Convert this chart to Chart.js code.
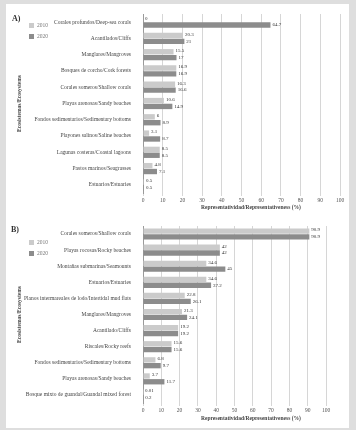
<!DOCTYPE html>
<html>
<head>
<meta charset="utf-8">
<script src="https://cdn.jsdelivr.net/npm/chart.js@4.4.0/dist/chart.umd.min.js"></script>
<style>
    html, body { margin: 0; padding: 0; }
    body { width: 356px; height: 430px; background: #dedede; position: relative; overflow: hidden; font-family: "Liberation Serif", "DejaVu Serif", serif; }
    .panel { position: absolute; left: 6px; top: 4px; width: 343px; height: 424px; background: #fff; }
    .box { position: absolute; }
    .box canvas { display: block; }
    .tag { position: absolute; font-weight: bold; font-size: 8px; color: #333; }
    .leg { position: absolute; font-size: 5.5px; color: #777; line-height: 6px; }
    .leg i { display: inline-block; width: 5px; height: 5px; margin-right: 3px; vertical-align: -1px; }
    .xtitle { position: absolute; font-size: 5.5px; font-weight: bold; color: #444; white-space: nowrap; }
</style>
</head>
<body>
<div class="panel"></div>

<div class="box" style="left:6px; top:4px; width:343px; height:210px;"><canvas id="chartA"></canvas></div>
<div class="box" style="left:6px; top:214px; width:343px; height:214px;"><canvas id="chartB"></canvas></div>

<div class="tag" style="left:12px; top:14px;">A)</div>
<div class="leg" style="left:29px; top:22px;"><i style="background:#cbcbcb"></i>2010</div>
<div class="leg" style="left:29px; top:33px;"><i style="background:#8c8c8c"></i>2020</div>
<div class="xtitle" style="left:201px; top:204px;">Representatividad/Representativeness (%)</div>

<div class="tag" style="left:11px; top:225px;">B)</div>
<div class="leg" style="left:29px; top:239px;"><i style="background:#cbcbcb"></i>2010</div>
<div class="leg" style="left:29px; top:250px;"><i style="background:#8c8c8c"></i>2020</div>
<div class="xtitle" style="left:201px; top:415px;">Representatividad/Representativeness (%)</div>

<script>
const seriesNames = ['2010', '2020'];
const tickValues = [0, 10, 20, 30, 40, 50, 60, 70, 80, 90, 100];

const categoriesA = [
    'Corales profundos/Deep-sea corals',
    'Acantilados/Cliffs',
    'Manglares/Mangroves',
    'Bosques de corcho/Cork forests',
    'Corales someros/Shallow corals',
    'Playas arenosas/Sandy beaches',
    'Fondos sedimentarios/Sedimentary bottoms',
    'Playones salinos/Saline beaches',
    'Lagunas costeras/Coastal lagoons',
    'Pastos marinos/Seagrasses',
    'Estuarios/Estuaries'
];
const values2010A = [0, 20.3, 15.5, 16.9, 16.3, 10.6, 6, 3.1, 8.5, 4.8, 0.5];
const values2020A = [64.7, 21, 17.0, 16.9, 16.6, 14.9, 8.9, 8.7, 8.5, 7.1, 0.5];

const categoriesB = [
    'Corales someros/Shallow corals',
    'Playas rocosas/Rocky beaches',
    'Montañas submarinas/Seamounts',
    'Estuarios/Estuaries',
    'Planos intermareales de lodo/Intertidal mud flats',
    'Manglares/Mangroves',
    'Acantilado/Cliffs',
    'Riscales/Rocky reefs',
    'Fondos sedimentarios/Sedimentary bottoms',
    'Playas arenosas/Sandy beaches',
    'Bosque mixto de guandal/Guandal mixed forest'
];
const values2010B = [90.9, 42, 34.6, 34.6, 22.8, 21.3, 19.2, 15.6, 6.8, 3.7, 0.01];
const values2020B = [90.9, 42, 45.0, 37.2, 26.1, 24.1, 19.2, 15.6, 9.7, 11.7, 0.2];

const colors = ['#cbcbcb', '#8c8c8c'];
const serif = '"Liberation Serif", "DejaVu Serif", serif';

// étiquettes de valeur au bout des barres
const valueLabels = {
    id: 'valueLabels',
    afterDatasetsDraw(chart) {
        const ctx = chart.ctx;
        ctx.save();
        ctx.font = '5px ' + serif;
        ctx.fillStyle = '#333';
        ctx.textBaseline = 'middle';
        chart.data.datasets.forEach((ds, i) => {
            chart.getDatasetMeta(i).data.forEach((bar, j) => {
                ctx.fillText(String(ds.data[j]), bar.x + 2, bar.y - (i === 0 ? 1 : 0));
            });
        });
        ctx.restore();
    }
};

function makeChart(id, categories, v2010, v2020, opts) {
    return new Chart(document.getElementById(id), {
        type: 'bar',
        data: {
            labels: categories,
            datasets: [
                { label: seriesNames[0], data: v2010, backgroundColor: colors[0] },
                { label: seriesNames[1], data: v2020, backgroundColor: colors[1] }
            ]
        },
        options: {
            indexAxis: 'y',
            responsive: true,
            maintainAspectRatio: false,
            animation: false,
            layout: { padding: { top: opts.top, right: opts.right, bottom: 0, left: 0 } },
            datasets: { bar: { categoryPercentage: 0.72, barPercentage: 0.92 } },
            plugins: { legend: { display: false }, tooltip: { enabled: false } },
            scales: {
                x: {
                    min: 0,
                    max: 100,
                    afterBuildTicks: scale => { scale.ticks = tickValues.map(v => ({ value: v })); },
                    afterFit: scale => { scale.height = opts.xHeight; },
                    grid: { color: '#d6d6d6', lineWidth: 1, tickLength: 3 },
                    border: { display: false },
                    ticks: { color: '#555', font: { family: serif, size: 5.5 }, padding: 1, maxRotation: 0 }
                },
                y: {
                    afterFit: scale => { scale.width = 137; },
                    grid: { display: false },
                    border: { display: true, color: '#9a9a9a', width: 1 },
                    ticks: { color: '#444', font: { family: serif, size: 5.5 }, padding: 4, autoSkip: false },
                    title: {
                        display: true,
                        text: 'Ecosistemas/Ecosystems',
                        color: '#444',
                        font: { family: serif, size: 5.5, weight: 'bold' },
                        padding: { top: 10, bottom: 0 }
                    }
                }
            }
        },
        plugins: [valueLabels]
    });
}

makeChart('chartA', categoriesA, values2010A, values2020A, { top: 10, right: 9, xHeight: 21 });
makeChart('chartB', categoriesB, values2010B, values2020B, { top: 12, right: 23, xHeight: 25 });
</script>
</body>
</html>
